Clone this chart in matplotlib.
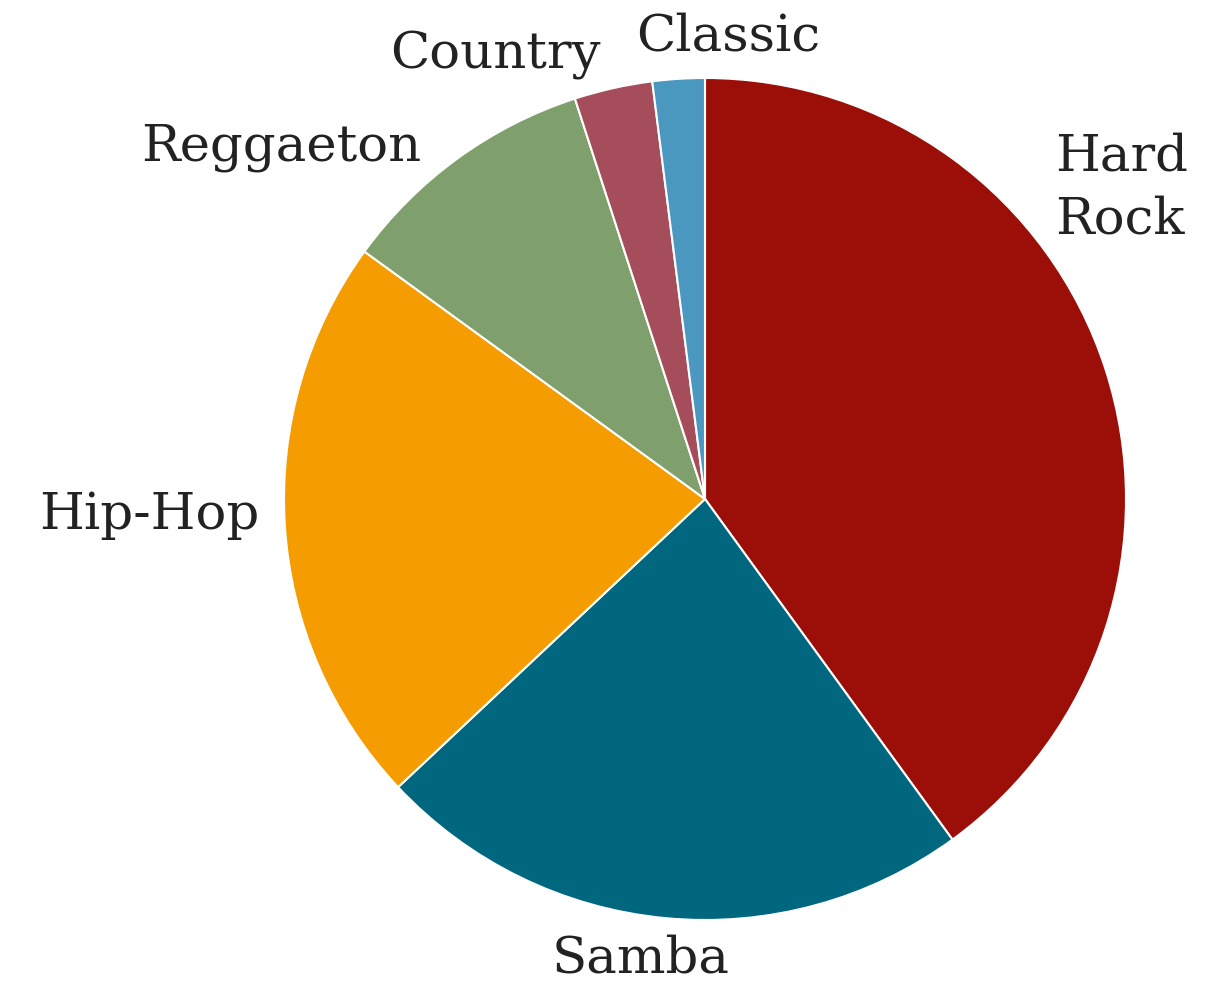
import numpy as np
import matplotlib
matplotlib.use("Agg")
import matplotlib.pyplot as plt

# =========================================================
# DATA
# =========================================================

genres = ["Hard Rock", "Samba", "Hip-Hop", "Reggaeton", "Country", "Classic"]
shares = [40, 23, 22, 10, 3, 2]
colors = ["#9c0f08", "#00677f", "#f49c00", "#7fa06c", "#a64d5c", "#4a97c0"]

# label text and where it sits (x, y in pixels from top-left, alignment)
label_text = ["Hard\nRock", "Samba", "Hip-Hop", "Reggaeton", "Country", "Classic"]
label_pos = [
    (1055, 188, "left"),
    (641, 959, "center"),
    (260, 515, "right"),
    (421, 147, "right"),
    (601, 55, "right"),
    (636, 37, "left"),
]

# =========================================================
# FIGURE
# =========================================================

W, H = 1223, 982
fig = plt.figure(figsize=(W / 100, H / 100), dpi=100)
ax = fig.add_axes([0, 0, 1, 1])

cx, cy, r = 705, H - 499, 421

ax.pie(
    shares,
    colors=colors,
    startangle=90,
    counterclock=False,
    center=(cx, cy),
    radius=r,
    wedgeprops=dict(edgecolor="white", linewidth=1.5),
    frame=True,
)
ax.set_xlim(0, W)
ax.set_ylim(0, H)
ax.set_aspect("equal")
ax.axis("off")

for txt, (x, y, ha) in zip(label_text, label_pos):
    ax.text(
        x, H - y, txt,
        ha=ha, va="center",
        fontsize=37, color="#222222",
        family="DejaVu Serif",
        linespacing=1.35,
    )

plt.savefig("out.png", dpi=100)
